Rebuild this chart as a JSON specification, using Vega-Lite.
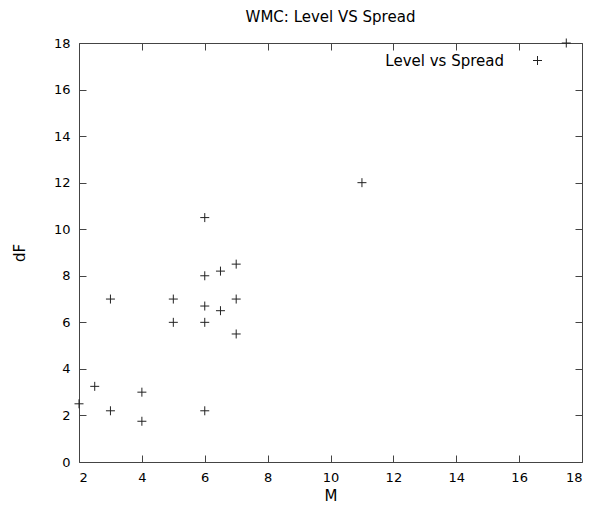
{
  "$schema": "https://vega.github.io/schema/vega-lite/v6.json",
  "autosize": {"type": "none"},
  "width": 503,
  "height": 419,
  "padding": {"left": 79, "top": 43, "right": 12, "bottom": 50},
  "background": "white",
  "title": {"text": "WMC: Level VS Spread", "font": "DejaVu Sans", "fontSize": 15, "fontWeight": "normal", "color": "#000", "offset": 12},
  "config": {
    "view": {"stroke": "#444", "strokeWidth": 1},
    "axis": {
      "grid": false,
      "domain": false,
      "tickColor": "#444",
      "tickSize": -7,
      "labelFont": "DejaVu Sans",
      "labelFontSize": 13,
      "labelColor": "#000",
      "titleFont": "DejaVu Sans",
      "titleFontSize": 15,
      "titleFontWeight": "normal",
      "titleColor": "#000",
      "labelPadding": 16
    }
  },
  "data": {
    "values": [
      {"M": 2, "dF": 2.5, "series": "Level vs Spread"},
      {"M": 2.5, "dF": 3.25, "series": "Level vs Spread"},
      {"M": 3, "dF": 7, "series": "Level vs Spread"},
      {"M": 3, "dF": 2.2, "series": "Level vs Spread"},
      {"M": 4, "dF": 3, "series": "Level vs Spread"},
      {"M": 4, "dF": 1.75, "series": "Level vs Spread"},
      {"M": 5, "dF": 7, "series": "Level vs Spread"},
      {"M": 5, "dF": 6, "series": "Level vs Spread"},
      {"M": 6, "dF": 10.5, "series": "Level vs Spread"},
      {"M": 6, "dF": 8, "series": "Level vs Spread"},
      {"M": 6, "dF": 6.7, "series": "Level vs Spread"},
      {"M": 6, "dF": 6, "series": "Level vs Spread"},
      {"M": 6, "dF": 2.2, "series": "Level vs Spread"},
      {"M": 6.5, "dF": 8.2, "series": "Level vs Spread"},
      {"M": 6.5, "dF": 6.5, "series": "Level vs Spread"},
      {"M": 7, "dF": 8.5, "series": "Level vs Spread"},
      {"M": 7, "dF": 7, "series": "Level vs Spread"},
      {"M": 7, "dF": 5.5, "series": "Level vs Spread"},
      {"M": 11, "dF": 12, "series": "Level vs Spread"},
      {"M": 17.5, "dF": 18, "series": "Level vs Spread"}
    ]
  },
  "layer": [
    {
      "mark": {"type": "point", "shape": "M-1,0L1,0M0,-1L0,1", "filled": false, "strokeWidth": 1, "size": 81, "opacity": 1, "clip": false},
      "encoding": {
        "x": {"field": "M", "type": "quantitative", "scale": {"domain": [2, 18], "nice": false, "zero": false},
              "axis": {"title": "M", "values": [2, 4, 6, 8, 10, 12, 14, 16, 18], "titlePadding": 4}},
        "y": {"field": "dF", "type": "quantitative", "scale": {"domain": [0, 18], "nice": false},
              "axis": {"title": "dF", "values": [0, 2, 4, 6, 8, 10, 12, 14, 16, 18], "titlePadding": 26}},
        "color": {"field": "series", "type": "nominal", "scale": {"range": ["#222"]},
                  "legend": {"title": null, "orient": "none", "legendX": 451, "legendY": 10, "labelAlign": "right", "labelOffset": -41,
                             "symbolType": "M-1,0L1,0M0,-1L0,1", "symbolSize": 81, "symbolStrokeWidth": 1, "symbolFillColor": "transparent",
                             "labelFont": "DejaVu Sans", "labelFontSize": 15, "labelColor": "#000"}}
      }
    },
    {
      "mark": {"type": "point", "opacity": 0},
      "encoding": {
        "x": {"field": "M", "type": "quantitative", "axis": {"orient": "top", "labels": false, "title": null, "values": [2, 4, 6, 8, 10, 12, 14, 16, 18]}},
        "y": {"field": "dF", "type": "quantitative", "axis": {"orient": "right", "labels": false, "title": null, "values": [0, 2, 4, 6, 8, 10, 12, 14, 16, 18]}}
      }
    }
  ],
  "resolve": {"axis": {"x": "independent", "y": "independent"}}
}
